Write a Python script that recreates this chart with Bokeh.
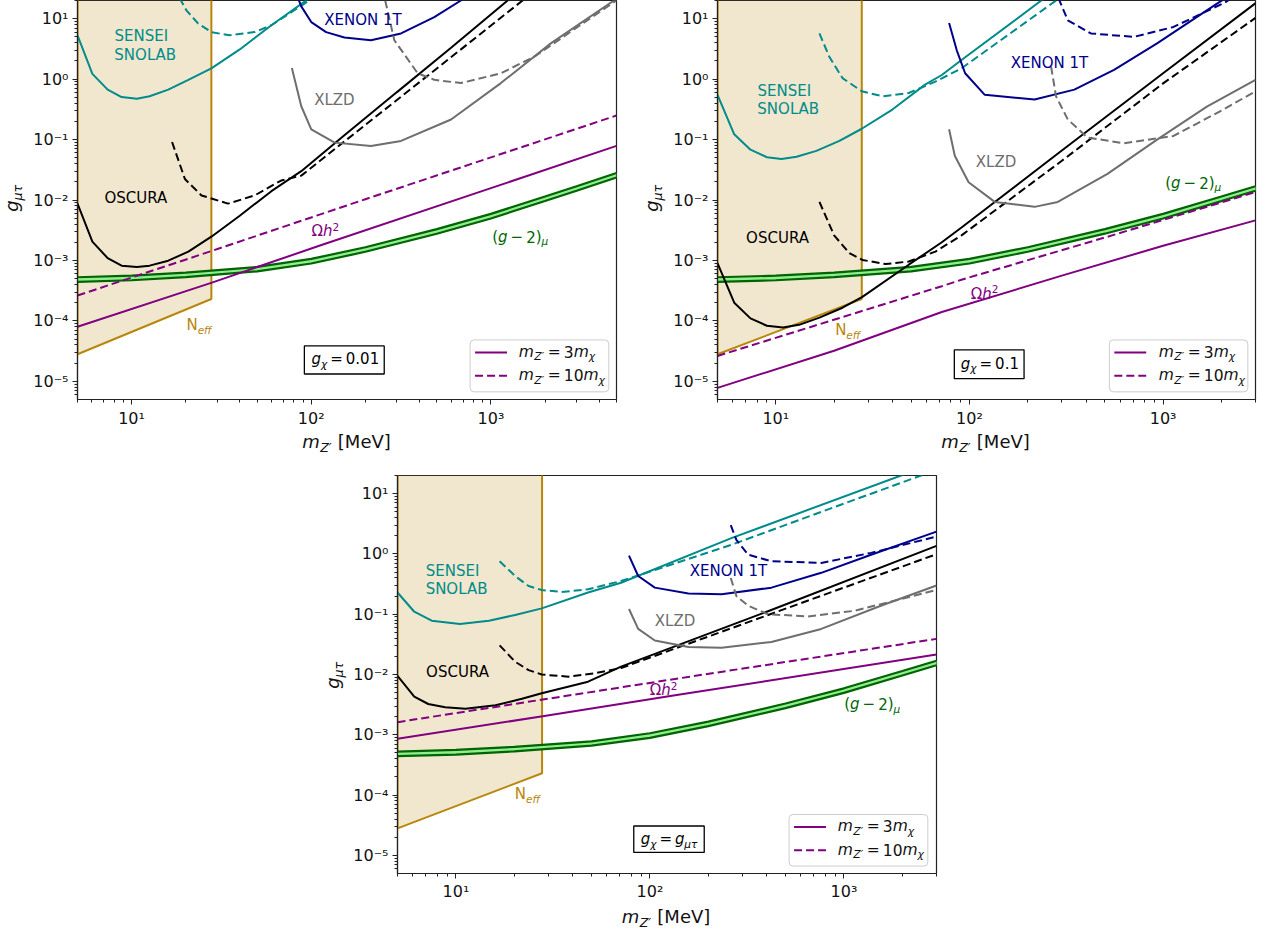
import math
from bokeh.plotting import figure
from bokeh.layouts import row, column
from bokeh.models import Range1d, FixedTicker, CustomJSTickFormatter, Label, BoxAnnotation, Spacer
from bokeh.embed import file_html
from bokeh.resources import INLINE

FONT = "DejaVu Sans"

# ---------------- data ----------------
# N_eff bound (lower edge of the excluded region, ends at the vertical line)
neff_x = [5, 27.8]
neff_y = [2.8e-5, 2.3e-4]

# (g-2)_mu band
g2_x = [5, 10, 20, 50, 100, 200, 500, 1000, 2000, 3000, 5000]
g2_hi = [5.27e-4, 5.6e-4, 6.3e-4, 7.8e-4, 1.06e-3, 1.65e-3, 3.3e-3, 5.9e-3, 1.14e-2, 1.69e-2, 2.8e-2]
g2_lo = [4.43e-4, 4.7e-4, 5.3e-4, 6.6e-4, 8.9e-4, 1.39e-3, 2.77e-3, 4.95e-3, 9.6e-3, 1.42e-2, 2.35e-2]

# Panel A : g_chi = 0.01
a_sensei_x = [5, 6.05, 7.36, 8.8, 10.7, 12.6, 16, 20.7, 27.8, 40, 60, 100]
a_sensei_y = [5.3, 1.22, 0.67, 0.505, 0.475, 0.52, 0.67, 0.975, 1.51, 3.1, 7.8, 23]
a_sensei_d_x = [18.5, 20.2, 23.5, 27.8, 35, 48.4, 60, 100]
a_sensei_d_y = [22, 13.7, 8.3, 6.0, 5.3, 6.0, 7.8, 21]
a_osc_x = [5, 6.05, 7.36, 8.8, 10.7, 12.6, 16, 20.7, 27.8, 40, 60, 88, 150, 300, 600, 1239, 1500]
a_osc_y = [8.7e-3, 2.05e-3, 1.09e-3, 8.2e-4, 7.8e-4, 8.2e-4, 9.9e-4, 1.4e-3, 2.47e-3, 5.5e-3, 0.014, 0.030, 0.112, 0.61, 3.3, 20, 32]
a_osc_d_x = [16.8, 19.8, 24.5, 34.4, 48.4, 68, 88, 200, 500, 1500, 1800]
a_osc_d_y = [0.091, 0.0223, 0.0119, 8.7e-3, 0.0119, 0.021, 0.0253, 0.175, 1.5, 20, 31]
a_xen_x = [83, 88, 100, 121, 153, 215, 316, 484, 681, 750]
a_xen_y = [25, 16, 8.8, 6.0, 4.9, 4.4, 5.7, 10.6, 20, 25]
a_xlzd_x = [78, 88, 100, 135, 215, 316, 600, 1136, 2154, 4840, 5000]
a_xlzd_y = [1.53, 0.356, 0.148, 0.089, 0.0785, 0.095, 0.215, 0.86, 3.9, 20, 22]
a_xlzd_d_x = [258, 290, 391, 484, 681, 1136, 1738, 5000]
a_xlzd_d_y = [20, 4.4, 1.25, 0.975, 0.86, 1.25, 2.34, 20]
a_relic3_x = [5, 28, 114, 1000, 5000]
a_relic3_y = [8.0e-5, 4.3e-4, 1.8e-3, 0.0157, 0.0785]
a_relic10_x = [5, 28, 200, 1000, 5000]
a_relic10_y = [2.63e-4, 1.44e-3, 0.0103, 0.0507, 0.25]

# Panel B : g_chi = 0.1
b_sensei_x = [5, 6.1, 7.4, 9.0, 10.7, 12.8, 16.2, 21.3, 27.8, 40, 59, 72, 91, 235, 260]
b_sensei_y = [0.55, 0.122, 0.068, 0.051, 0.0476, 0.052, 0.065, 0.095, 0.151, 0.314, 0.81, 1.17, 2.07, 20, 25]
b_sensei_d_x = [16.8, 18.9, 22.1, 27.8, 35.5, 48.6, 66.7, 91, 280, 300]
b_sensei_d_y = [5.7, 2.34, 1.04, 0.63, 0.52, 0.59, 0.91, 1.51, 20, 24]
b_osc_x = [5, 6.1, 7.4, 9.0, 10.9, 13.2, 16.8, 22.1, 28, 48.6, 72, 91, 300, 1000, 2970, 3000]
b_osc_y = [9.0e-4, 2.0e-4, 1.1e-4, 8.3e-5, 7.8e-5, 8.6e-5, 1.13e-4, 1.65e-4, 2.5e-4, 8.5e-4, 2.0e-3, 3.5e-3, 0.066, 1.25, 17.6, 18.2]
b_osc_d_x = [16.8, 20, 24, 28, 36.9, 48.6, 66.7, 91, 300, 1000, 3000]
b_osc_d_y = [9.3e-3, 2.6e-3, 1.32e-3, 1.02e-3, 8.7e-4, 9.6e-4, 1.4e-3, 2.6e-3, 0.0445, 0.85, 10.3]
b_xen_x = [78.5, 86, 95, 120, 217, 348, 558, 931, 1890, 2200]
b_xen_y = [8.5, 3.0, 1.25, 0.55, 0.46, 0.67, 1.42, 3.9, 17.6, 24]
b_xen_d_x = [288, 322, 424, 706, 1132, 2090, 2400]
b_xen_d_y = [22, 9.4, 5.7, 5.0, 7.3, 18.6, 25]
b_xlzd_x = [78.5, 84, 99, 135, 217, 286, 516, 931, 1683, 3000]
b_xlzd_y = [0.148, 0.054, 0.0197, 9.3e-3, 7.7e-3, 9.3e-3, 0.027, 0.10, 0.35, 0.975]
b_xlzd_d_x = [264, 280, 322, 407, 628, 1132, 2047, 3000]
b_xlzd_d_y = [1.61, 0.52, 0.215, 0.108, 0.087, 0.115, 0.314, 0.63]
b_relic3_x = [5, 20, 72, 300, 1000, 3000]
b_relic3_y = [7.8e-6, 3.2e-5, 1.4e-4, 5.6e-4, 1.75e-3, 4.6e-3]
b_relic10_x = [5, 72, 91, 517, 3000]
b_relic10_y = [2.63e-5, 3.75e-4, 4.8e-4, 2.47e-3, 0.0135]

# Panel C : g_chi = g_mutau
c_sensei_x = [5, 6.1, 7.5, 10.5, 14.8, 20.2, 27.7, 48, 71, 263, 1970, 2200]
c_sensei_y = [0.229, 0.11, 0.078, 0.069, 0.078, 0.097, 0.125, 0.229, 0.333, 1.83, 20, 23]
c_sensei_d_x = [16.8, 20.2, 23.7, 27.7, 35.1, 48, 71, 263, 2495, 2700]
c_sensei_d_y = [0.755, 0.43, 0.293, 0.252, 0.234, 0.259, 0.355, 1.42, 20, 22]
c_osc_x = [5, 6.1, 7.2, 8.8, 11.2, 16, 21.9, 27.7, 48, 71, 391, 3000]
c_osc_y = [9.5e-3, 4.3e-3, 3.24e-3, 2.86e-3, 2.7e-3, 3.08e-3, 3.95e-3, 4.9e-3, 7.6e-3, 0.0135, 0.107, 1.36]
c_osc_d_x = [16.8, 20.2, 23.7, 27.7, 38, 52, 71, 3000]
c_osc_d_y = [0.0304, 0.0163, 0.0118, 0.01, 9.2e-3, 0.0105, 0.0128, 0.99]
c_xen_x = [78, 87, 106, 158, 234, 423, 764, 1380, 3000]
c_xen_y = [0.935, 0.43, 0.276, 0.22, 0.214, 0.276, 0.486, 0.97, 2.34]
c_xen_d_x = [261, 279, 321, 423, 764, 1380, 3000]
c_xen_d_y = [3.0, 1.71, 0.97, 0.755, 0.71, 1.04, 1.94]
c_xlzd_x = [78, 87, 106, 158, 234, 423, 764, 1550, 3000]
c_xlzd_y = [0.122, 0.057, 0.0367, 0.0286, 0.0279, 0.0346, 0.057, 0.138, 0.3]
c_xlzd_d_x = [261, 279, 321, 406, 653, 1135, 3000]
c_xlzd_d_y = [0.40, 0.2, 0.138, 0.1, 0.092, 0.114, 0.252]
c_relic3_x = [5, 28, 140, 3000]
c_relic3_y = [8.6e-4, 2.03e-3, 4.6e-3, 0.0214]
c_relic10_x = [5, 28, 140, 3000]
c_relic10_y = [1.62e-3, 3.84e-3, 8.6e-3, 0.039]

# ---------------- styling ----------------
C_SENSEI = "#008b8b"
C_OSC = "#000000"
C_XEN = "#00008b"
C_XLZD = "#6e6e6e"
C_RELIC = "#800080"
C_G2 = "#006400"
C_G2F = "#90ee90"
C_NEFF = "#b8860b"
DASH = "8 4"
LW = 2
YMIN, YMAX = 5e-6, 20.0
FW, FH = 540, 402

W = {' ': 0.318, '\u2009': 0.2, '(': 0.390, ')': 0.390, '[': 0.390, ']': 0.390, '=': 0.838,
     '\u2212': 0.838, '.': 0.318, 'A': 0.684, 'B': 0.686, 'C': 0.698, 'D': 0.770, 'E': 0.632,
     'I': 0.295, 'L': 0.557, 'M': 0.863, 'N': 0.748, 'O': 0.787, 'R': 0.695, 'S': 0.635,
     'T': 0.611, 'U': 0.732, 'V': 0.684, 'X': 0.685, 'Z': 0.685, 'a': 0.613, 'e': 0.615,
     'f': 0.352, 'g': 0.635, 'h': 0.634, 'm': 0.974, '\u03bc': 0.636, '\u03c4': 0.55,
     '\u03c7': 0.59, '\u03a9': 0.764, '\u2032': 0.3}
for d in "0123456789":
    W[d] = 0.636
MID = 0.346      # distance from baseline to the middle of the text box, in em


def tw(s, size):
    return sum(W.get(c, 0.6) for c in s) * size


def label_parts(p, fr, fx, fy, parts, size, color, align="left", angle=0.0):
    """Math-like text built from parts; (fx, fy) is the baseline start in px from (fr)."""
    x0, y0 = fr
    segs, total = [], 0.0
    for t, k in parts:
        s = size * 0.7 if k in ("sub", "sup") else size
        lead = len(t) - len(t.lstrip(" "))
        txt = t.strip(" ")
        segs.append((txt, k, s, total + tw(" " * lead, s), tw(txt, s)))
        total += tw(t, s)
    shift = {"left": 0.0, "center": -total / 2, "right": -total}[align]
    for t, k, s, off, w in segs:
        dy = -0.22 * size if k == "sub" else (0.42 * size if k == "sup" else 0.0)
        style = "italic" if k in ("i", "sub") else "normal"
        if angle:
            xo = fx - dy - MID * s
            yo = fy + shift + off + w / 2
        else:
            xo = fx + shift + off + w / 2
            yo = fy + dy + MID * s
        p.add_layout(Label(x=x0, y=y0, x_offset=xo, y_offset=yo, text=t,
                           text_font=FONT, text_font_size=f"{s:.1f}px", text_font_style=style,
                           text_color=color, text_align="center", text_baseline="middle",
                           angle=angle, level="overlay"))


def sup_formatter():
    return CustomJSTickFormatter(code="""
        const e = Math.round(Math.log10(tick));
        const m = {'-':'\u207b','0':'\u2070','1':'\u00b9','2':'\u00b2','3':'\u00b3','4':'\u2074',
                   '5':'\u2075','6':'\u2076','7':'\u2077','8':'\u2078','9':'\u2079'};
        return '10' + String(e).split('').map(c => m[c]).join('');
    """)


def make_strip(width, height):
    s = figure(width=width, height=height, x_range=Range1d(0, width), y_range=Range1d(0, height),
               output_backend="svg", toolbar_location=None, x_axis_location=None, y_axis_location=None,
               min_border_left=0, min_border_right=0, min_border_top=0, min_border_bottom=0)
    s.outline_line_color = None
    s.background_fill_color = "white"
    s.border_fill_color = "white"
    s.xgrid.visible = False
    s.ygrid.visible = False
    return s


def xlabel_strip(width, height, fx, fy):
    s = make_strip(width, height)
    label_parts(s, (0, 0), fx, fy, [("m", "i"), ("Z\u2032", "sub"), (" [MeV]", "n")], 18, "#111111",
                align="center")
    return s


def ylabel_strip(width, height, fx, fy):
    s = make_strip(width, height)
    label_parts(s, (0, 0), fx, fy, [("g", "i"), ("\u03bc\u03c4", "sub")], 18, "#111111", align="center",
                angle=math.pi / 2)
    return s


def make_panel(width, height, mbl, mbr, mbt, mbb, xmax, d, box_parts, pos, xstandoff=4):
    xmin = 5.0
    p = figure(width=width, height=height, x_axis_type="log", y_axis_type="log",
               x_range=Range1d(xmin, xmax), y_range=Range1d(YMIN, YMAX),
               output_backend="svg", toolbar_location=None,
               min_border_left=mbl, min_border_right=mbr, min_border_top=mbt, min_border_bottom=mbb)
    p.background_fill_color = "white"
    p.border_fill_color = "white"
    p.outline_line_color = "#222222"
    p.outline_line_width = 1.2
    p.xgrid.visible = False
    p.ygrid.visible = False
    xmin_ticks = [k * 10 ** e for e in range(0, 4) for k in range(2, 10)]
    p.xaxis.ticker = FixedTicker(ticks=[10, 100, 1000], minor_ticks=xmin_ticks)
    ymin_ticks = [k * 10.0 ** e for e in range(-6, 2) for k in range(2, 10)]
    p.yaxis.ticker = FixedTicker(ticks=[1e-5, 1e-4, 1e-3, 1e-2, 1e-1, 1, 10], minor_ticks=ymin_ticks)
    for ax in (p.xaxis[0], p.yaxis[0]):
        ax.formatter = sup_formatter()
        ax.major_label_text_font = FONT
        ax.major_label_text_font_size = "16px"
        ax.major_label_text_color = "#111111"
        ax.axis_line_color = "#222222"
        ax.axis_line_width = 1.2
        ax.major_tick_line_color = "#222222"
        ax.minor_tick_line_color = "#222222"
        ax.major_tick_in = 0
        ax.major_tick_out = 5
        ax.minor_tick_in = 0
        ax.minor_tick_out = 3
        ax.major_label_standoff = 4
        ax.axis_label = None
    p.xaxis[0].major_label_standoff = xstandoff

    def fx2x(fx):
        return 10 ** (math.log10(xmin) + fx / FW * (math.log10(xmax) - math.log10(xmin)))

    def fy2y(fy):
        return 10 ** (math.log10(YMIN) + fy / FH * (math.log10(YMAX) - math.log10(YMIN)))

    # N_eff region
    p.patch([neff_x[0], neff_x[1], neff_x[1], neff_x[0]], [neff_y[0], neff_y[1], 1e3, 1e3],
            fill_color=C_NEFF, fill_alpha=0.2, line_color=C_NEFF, line_width=LW)
    # (g-2) band
    p.varea(x=g2_x, y1=g2_lo, y2=g2_hi, fill_color=C_G2F)
    p.line(g2_x, g2_hi, line_color=C_G2, line_width=2.2)
    p.line(g2_x, g2_lo, line_color=C_G2, line_width=2.2)
    # experiments
    for key, col in (("sensei", C_SENSEI), ("osc", C_OSC), ("xen", C_XEN), ("xlzd", C_XLZD)):
        if key + "_x" in d:
            p.line(d[key + "_x"], d[key + "_y"], line_color=col, line_width=LW)
        if key + "_d_x" in d:
            p.line(d[key + "_d_x"], d[key + "_d_y"], line_color=col, line_width=LW, line_dash=DASH)
    # relic
    p.line(d["relic3_x"], d["relic3_y"], line_color=C_RELIC, line_width=LW)
    p.line(d["relic10_x"], d["relic10_y"], line_color=C_RELIC, line_width=LW, line_dash=DASH)

    fr = (xmin, YMIN)
    S = 15
    # text annotations
    label_parts(p, fr, pos["sensei"][0], pos["sensei"][1], [("SENSEI", "n")], S, C_SENSEI)
    label_parts(p, fr, pos["sensei"][0], pos["sensei"][2], [("SNOLAB", "n")], S, C_SENSEI)
    label_parts(p, fr, pos["osc"][0], pos["osc"][1], [("OSCURA", "n")], S, C_OSC)
    label_parts(p, fr, pos["xen"][0], pos["xen"][1], [("XENON 1T", "n")], S, C_XEN)
    label_parts(p, fr, pos["xlzd"][0], pos["xlzd"][1], [("XLZD", "n")], S, C_XLZD)
    label_parts(p, fr, pos["relic"][0], pos["relic"][1], [("\u03a9", "n"), ("h", "i"), ("2", "sup")], S, C_RELIC)
    label_parts(p, fr, pos["g2"][0], pos["g2"][1],
                [("(", "n"), ("g", "i"), ("\u2009\u2212\u2009", "n"), ("2", "n"), (")", "n"), ("\u03bc", "sub")], S, C_G2)
    label_parts(p, fr, pos["neff"][0], pos["neff"][1], [("N", "n"), ("eff", "sub")], S, C_NEFF)

    # g_chi box
    bx0, bx1, by0, by1 = pos["box"]
    p.add_layout(BoxAnnotation(left=fx2x(bx0), right=fx2x(bx1), bottom=fy2y(by0), top=fy2y(by1),
                               fill_color="white", fill_alpha=1.0, line_color="black", line_alpha=1.0,
                               line_width=1.3, level="annotation"))
    label_parts(p, fr, pos["boxtext"][0], pos["boxtext"][1], box_parts, 15, "black")

    # legend
    lx0, lx1, ly0, ly1 = pos["legend"]
    p.add_layout(BoxAnnotation(left=fx2x(lx0), right=fx2x(lx1), bottom=fy2y(ly0), top=fy2y(ly1),
                               fill_color="white", fill_alpha=0.8, line_color="#cccccc", line_alpha=1.0,
                               line_width=1, border_radius=4, level="annotation"))
    sx0, sx1 = lx0 + 5, lx0 + 37
    r1 = p.line([fx2x(sx0), fx2x(sx1)], [fy2y(ly1 - 12.6)] * 2, line_color=C_RELIC, line_width=LW)
    r2 = p.line([fx2x(sx0), fx2x(sx1)], [fy2y(ly1 - 36)] * 2, line_color=C_RELIC, line_width=LW, line_dash=DASH)
    r1.level = "overlay"
    r2.level = "overlay"
    LS = 15.5
    label_parts(p, fr, lx0 + 48, ly1 - 17.6,
                [("m", "i"), ("Z\u2032", "sub"), ("\u2009=\u2009", "n"), ("3", "n"), ("m", "i"), ("\u03c7", "sub")], LS, "#111111")
    label_parts(p, fr, lx0 + 48, ly1 - 41,
                [("m", "i"), ("Z\u2032", "sub"), ("\u2009=\u2009", "n"), ("10", "n"), ("m", "i"), ("\u03c7", "sub")], LS, "#111111")
    return p


dA = dict(sensei_x=a_sensei_x, sensei_y=a_sensei_y, sensei_d_x=a_sensei_d_x, sensei_d_y=a_sensei_d_y,
          osc_x=a_osc_x, osc_y=a_osc_y, osc_d_x=a_osc_d_x, osc_d_y=a_osc_d_y,
          xen_x=a_xen_x, xen_y=a_xen_y,
          xlzd_x=a_xlzd_x, xlzd_y=a_xlzd_y, xlzd_d_x=a_xlzd_d_x, xlzd_d_y=a_xlzd_d_y,
          relic3_x=a_relic3_x, relic3_y=a_relic3_y, relic10_x=a_relic10_x, relic10_y=a_relic10_y)
dB = dict(sensei_x=b_sensei_x, sensei_y=b_sensei_y, sensei_d_x=b_sensei_d_x, sensei_d_y=b_sensei_d_y,
          osc_x=b_osc_x, osc_y=b_osc_y, osc_d_x=b_osc_d_x, osc_d_y=b_osc_d_y,
          xen_x=b_xen_x, xen_y=b_xen_y, xen_d_x=b_xen_d_x, xen_d_y=b_xen_d_y,
          xlzd_x=b_xlzd_x, xlzd_y=b_xlzd_y, xlzd_d_x=b_xlzd_d_x, xlzd_d_y=b_xlzd_d_y,
          relic3_x=b_relic3_x, relic3_y=b_relic3_y, relic10_x=b_relic10_x, relic10_y=b_relic10_y)
dC = dict(sensei_x=c_sensei_x, sensei_y=c_sensei_y, sensei_d_x=c_sensei_d_x, sensei_d_y=c_sensei_d_y,
          osc_x=c_osc_x, osc_y=c_osc_y, osc_d_x=c_osc_d_x, osc_d_y=c_osc_d_y,
          xen_x=c_xen_x, xen_y=c_xen_y, xen_d_x=c_xen_d_x, xen_d_y=c_xen_d_y,
          xlzd_x=c_xlzd_x, xlzd_y=c_xlzd_y, xlzd_d_x=c_xlzd_d_x, xlzd_d_y=c_xlzd_d_y,
          relic3_x=c_relic3_x, relic3_y=c_relic3_y, relic10_x=c_relic10_x, relic10_y=c_relic10_y)

posA = dict(sensei=(37, 358, 339.7), osc=(26.7, 196.7), xen=(246.7, 374.7), xlzd=(236.7, 294.7),
            relic=(234, 163), g2=(414.7, 157.7), neff=(109, 69),
            box=(227.3, 307.3, 25.7, 54), boxtext=(234, 35), legend=(393.3, 532.3, 7.7, 60))
posB = dict(sensei=(40, 303.4, 285), osc=(28.3, 156.7), xen=(293.3, 331.7), xlzd=(258.3, 232.4),
            relic=(253.3, 100.7), g2=(447.7, 211.7), neff=(117.7, 64),
            box=(237.7, 307.7, 21, 50), boxtext=(243.3, 30.7), legend=(393.3, 532.3, 7.7, 60))
posC = dict(sensei=(28.3, 297, 279), osc=(28.3, 196.3), xen=(292.3, 297.3), xlzd=(257.3, 247.3),
            relic=(252.3, 178), g2=(446.7, 164.6), neff=(117.3, 74),
            box=(236.7, 307.3, 21.3, 48), boxtext=(243.3, 29.6), legend=(392.3, 531.3, 7.5, 59.6))

boxA = [("g", "i"), ("\u03c7", "sub"), ("\u2009=\u20090.01", "n")]
boxB = [("g", "i"), ("\u03c7", "sub"), ("\u2009=\u20090.1", "n")]
boxC = [("g", "i"), ("\u03c7", "sub"), ("\u2009=\u2009", "n"), ("g", "i"), ("\u03bc\u03c4", "sub")]

# layout: label strips + panels
SW = 30          # width of the y-label strips
TOPH = 430       # height of the top row of panels
f1 = make_panel(640 - SW, TOPH, 76 - SW, 24, 0, TOPH - FH, 5000, dA, boxA, posA)
f2 = make_panel(629 - SW, TOPH, 75 - SW, 14, 0, TOPH - FH, 3000, dB, boxB, posB)
BOTH = 438
f3 = make_panel((76 - SW) + FW + 14, BOTH, 76 - SW, 14, 10, BOTH - FH - 10, 3000, dC, boxC, posC, xstandoff=3)

# y labels: centred on the frame middle (corrected for the observed rendering shift)
y1 = ylabel_strip(SW, TOPH, 17, TOPH - 201 - 28)
y2 = ylabel_strip(SW, TOPH, 17, TOPH - 201 - 28)
y3 = ylabel_strip(SW, BOTH, 18, BOTH - 211 - 29)
XH1 = 465 - TOPH
x1 = xlabel_strip(640, XH1, 346, 465 - 447)
x2 = xlabel_strip(629, XH1, 345, 465 - 447)
XH3 = 931 - 465 - BOTH
x3 = xlabel_strip(630, XH3, 345.5, 931 - 922)

layout = column(
    row(y1, f1, y2, f2),
    row(x1, x2),
    row(Spacer(width=320, height=BOTH), y3, f3),
    row(Spacer(width=320, height=XH3), x3),
)
open("out.html", "w").write(file_html(layout, INLINE))
